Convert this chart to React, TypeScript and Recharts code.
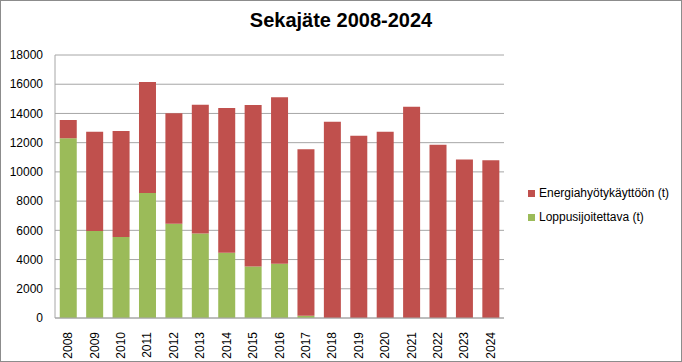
import React from "react";
import { BarChart, Bar, XAxis, YAxis, CartesianGrid } from "recharts";

const years = ["2008","2009","2010","2011","2012","2013","2014","2015","2016","2017","2018","2019","2020","2021","2022","2023","2024"];
const loppusijoitettava = [12300, 5950, 5550, 8550, 6450, 5780, 4470, 3520, 3720, 150, 0, 0, 0, 0, 0, 0, 0];
const energiahyotykaytto = [1250, 6800, 7250, 7600, 7570, 8820, 9910, 11060, 11380, 11400, 13430, 12480, 12750, 14450, 11850, 10850, 10800];
const yTicks = [0, 2000, 4000, 6000, 8000, 10000, 12000, 14000, 16000, 18000];

const data = years.map((y, i) => ({
  year: y,
  lopp: loppusijoitettava[i],
  energia: energiahyotykaytto[i],
}));

const RED = "#C0504D";
const GREEN = "#9BBB59";
const FONT = "'Liberation Sans', Arial, sans-serif";

const XTick = (props: any) => {
  const { x, y, payload } = props;
  return (
    <text x={x} y={y + 6} transform={`rotate(-90, ${x}, ${y + 6})`} textAnchor="end" dominantBaseline="central" fontSize={12} fill="#000" fontFamily={FONT}>
      {payload.value}
    </text>
  );
};

export default function App() {
  return (
    <div style={{ position: "absolute", left: 0, top: 0, width: 682, height: 362, boxSizing: "border-box", border: "1px solid #8c8c8c", background: "#fff", fontFamily: FONT }}>
      <div style={{ position: "absolute", left: 0, width: 680, top: 8, textAlign: "center", fontWeight: "bold", fontSize: 20, color: "#000" }}>
        Sekajäte 2008-2024
      </div>
      <div style={{ position: "absolute", left: 0, top: 0 }}>
        <BarChart width={680} height={360} data={data} margin={{ top: 54, right: 177, bottom: 0, left: 0 }} barCategoryGap="18%">
          <CartesianGrid vertical={false} stroke="#a6a6a6" />
          <XAxis dataKey="year" height={43} tick={<XTick />} tickLine={false} axisLine={{ stroke: "#a6a6a6" }} interval={0} />
          <YAxis width={54} domain={[0, 18000]} ticks={yTicks} tickLine={false} tickMargin={6} axisLine={{ stroke: "#a6a6a6" }} tick={{ fontSize: 12, fill: "#000", fontFamily: FONT }} interval={0} />
          <Bar dataKey="lopp" stackId="a" fill={GREEN} isAnimationActive={false} />
          <Bar dataKey="energia" stackId="a" fill={RED} isAnimationActive={false} />
        </BarChart>
      </div>
      <div style={{ position: "absolute", left: 527, top: 180, fontSize: 12, color: "#000", lineHeight: "24px" }}>
        <div style={{ display: "flex", alignItems: "center" }}>
          <span style={{ width: 7, height: 7, background: RED, display: "inline-block", marginRight: 4 }} />
          Energiahyötykäyttöön (t)
        </div>
        <div style={{ display: "flex", alignItems: "center" }}>
          <span style={{ width: 7, height: 7, background: GREEN, display: "inline-block", marginRight: 4 }} />
          Loppusijoitettava (t)
        </div>
      </div>
    </div>
  );
}
